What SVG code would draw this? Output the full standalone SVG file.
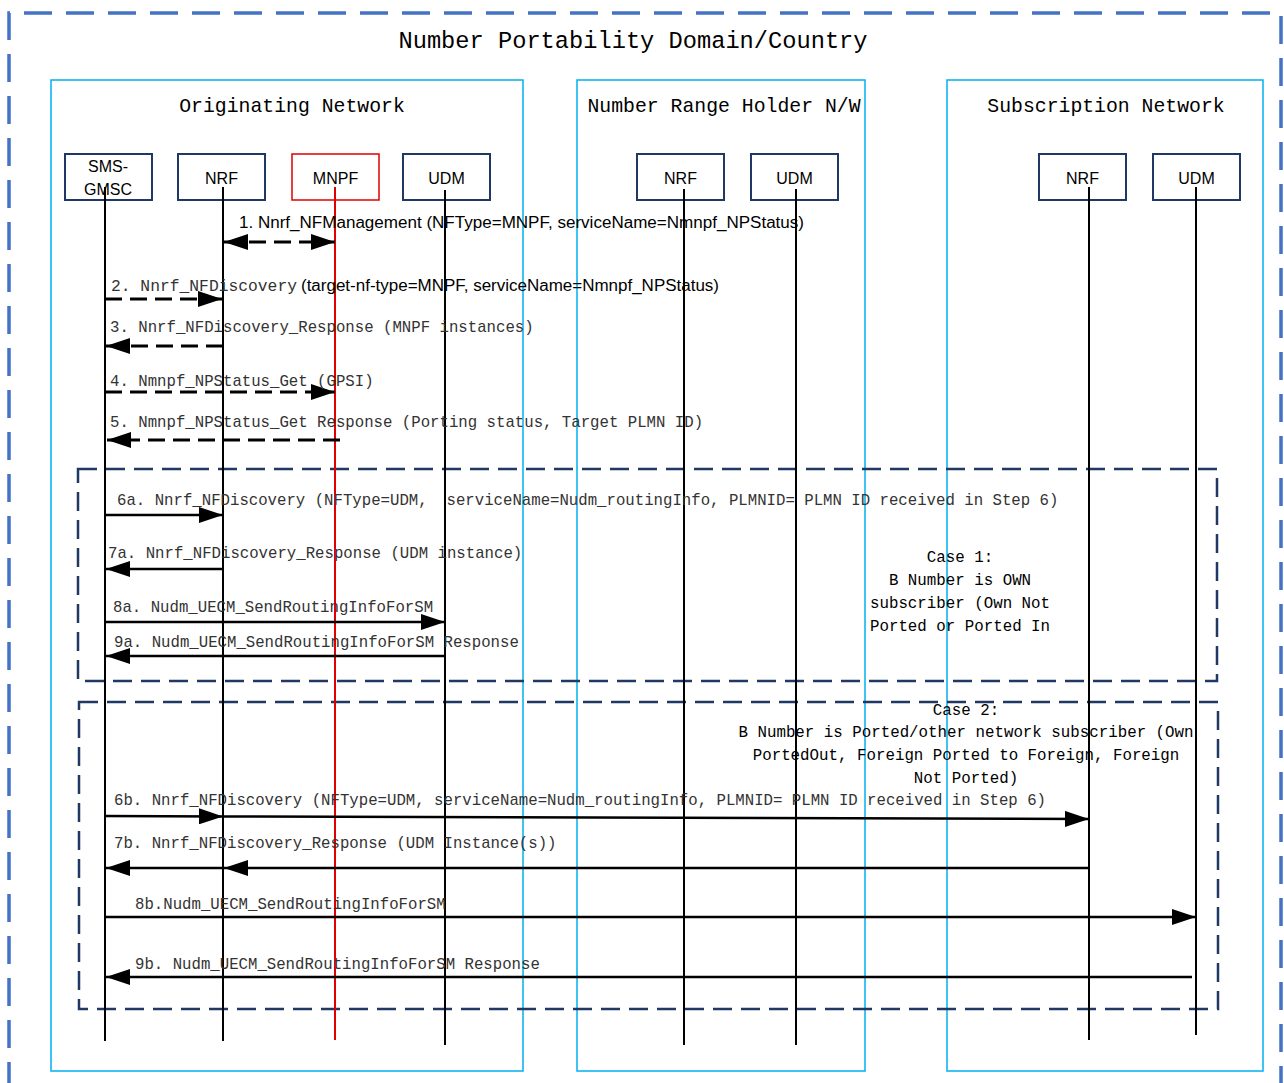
<svg xmlns="http://www.w3.org/2000/svg" width="1284" height="1083" viewBox="0 0 1284 1083">
<style>
.border{fill:none;stroke:#4472C4;stroke-width:3.5;stroke-dasharray:28 14}
.net{fill:none;stroke:#00B0F0;stroke-width:1.5}
.node{fill:#fff;stroke:#1F3864;stroke-width:2}
.nodeR{fill:#fff;stroke:#E00000;stroke-width:1.5}
.life{stroke:#000;stroke-width:2}
.lifeR{stroke:#E00000;stroke-width:2}
.msg{stroke:#000;stroke-width:2.5;fill:none;marker-end:url(#ah)}
.dash{stroke-width:3;stroke-dasharray:17 8}
.case{fill:none;stroke:#1F3864;stroke-width:2.5;stroke-dasharray:19 9}
.mono{font-family:"Liberation Mono","DejaVu Sans Mono",monospace}
.t{font-size:15.7px;fill:#333}
.ct{font-size:15.8px;fill:#000;text-anchor:middle}
.title{font-size:23.7px;fill:#000;text-anchor:middle}
.ntitle{font-size:19.8px;fill:#000;text-anchor:middle}
.lbl{font-family:"Liberation Sans",Arial,sans-serif;font-size:16px;fill:#000;text-anchor:middle}
.sans{font-family:"Liberation Sans",Arial,sans-serif;font-size:16px;fill:#000}
</style>
<defs>
<marker id="ah" markerUnits="userSpaceOnUse" markerWidth="24" markerHeight="16" viewBox="0 0 24 16" refX="24" refY="8" orient="auto-start-reverse">
<path d="M0,0 L24,8 L0,16 Z" fill="#000"/>
</marker>
</defs>
<rect width="1284" height="1083" fill="#fff"/>
<path class="border" d="M9,1090 V13 H1281 V1090"/>
<text class="mono title" x="633" y="48">Number Portability Domain/Country</text>

<g id="net-originating">
<rect class="net" x="51" y="80" width="472" height="991"/>
<text class="mono ntitle" x="292" y="112">Originating Network</text>
</g>
<g id="net-nrh">
<rect class="net" x="577" y="80" width="288" height="991"/>
<text class="mono ntitle" x="724" y="112">Number Range Holder N/W</text>
</g>
<g id="net-subscription">
<rect class="net" x="947" y="80" width="316" height="991"/>
<text class="mono ntitle" x="1106" y="112">Subscription Network</text>
</g>

<g id="case1">
<rect class="case" x="78" y="469" width="1139" height="212"/>
<text class="mono ct" x="960" y="562">Case 1:</text>
<text class="mono ct" x="960" y="585">B Number is OWN</text>
<text class="mono ct" x="960" y="608">subscriber (Own Not</text>
<text class="mono ct" x="960" y="631">Ported or Ported In</text>
</g>
<g id="case2">
<rect class="case" x="79" y="702" width="1139" height="307"/>
<text class="mono ct" x="966" y="715">Case 2:</text>
<text class="mono ct" x="966" y="737">B Number is Ported/other network subscriber (Own</text>
<text class="mono ct" x="966" y="760">PortedOut, Foreign Ported to Foreign, Foreign</text>
<text class="mono ct" x="966" y="783">Not Ported)</text>
</g>

<g id="node-smsgmsc">
<rect class="node" x="65" y="154" width="87" height="46"/>
<text class="lbl" x="108" y="172">SMS-</text>
<text class="lbl" x="108" y="195">GMSC</text>
<line class="life" x1="105" y1="187" x2="105" y2="1041"/>
</g>
<g id="node-nrf-orig">
<rect class="node" x="178" y="154" width="87" height="46"/>
<text class="lbl" x="221.5" y="184">NRF</text>
<line class="life" x1="223" y1="187" x2="223" y2="1041"/>
</g>
<g id="node-mnpf">
<rect class="nodeR" x="292" y="154" width="87" height="46"/>
<text class="lbl" x="335.5" y="184">MNPF</text>
<line class="lifeR" x1="335" y1="187" x2="335" y2="1040"/>
</g>
<g id="node-udm-orig">
<rect class="node" x="403" y="154" width="87" height="46"/>
<text class="lbl" x="446.5" y="184">UDM</text>
<line class="life" x1="445" y1="190" x2="445" y2="1045"/>
</g>
<g id="node-nrf-nrh">
<rect class="node" x="637" y="154" width="87" height="46"/>
<text class="lbl" x="680.5" y="184">NRF</text>
<line class="life" x1="684" y1="189" x2="684" y2="1045"/>
</g>
<g id="node-udm-nrh">
<rect class="node" x="751" y="154" width="87" height="46"/>
<text class="lbl" x="794.5" y="184">UDM</text>
<line class="life" x1="796" y1="189" x2="796" y2="1045"/>
</g>
<g id="node-nrf-sub">
<rect class="node" x="1039" y="154" width="87" height="46"/>
<text class="lbl" x="1082.5" y="184">NRF</text>
<line class="life" x1="1089" y1="187" x2="1089" y2="1040"/>
</g>
<g id="node-udm-sub">
<rect class="node" x="1153" y="154" width="87" height="46"/>
<text class="lbl" x="1196.5" y="184">UDM</text>
<line class="life" x1="1196" y1="187" x2="1196" y2="1035"/>
</g>

<g id="connectors">
<line class="msg dash" x1="224" y1="242" x2="335" y2="242" marker-start="url(#ah)"/>
<line class="msg dash" x1="105" y1="299" x2="222" y2="299"/>
<line class="msg dash" x1="223" y1="346" x2="106" y2="346"/>
<line class="msg dash" x1="105" y1="392" x2="335" y2="392"/>
<line class="msg dash" x1="340" y1="440" x2="107" y2="440"/>
<line class="msg" x1="105" y1="515" x2="223" y2="515"/>
<line class="msg" x1="223" y1="569" x2="106" y2="569"/>
<line class="msg" x1="105" y1="622" x2="445" y2="622"/>
<line class="msg" x1="445" y1="656" x2="106" y2="656"/>
<line class="msg" x1="105" y1="816" x2="223" y2="816.4"/>
<line class="msg" x1="223" y1="816.4" x2="1089" y2="819"/>
<line class="msg" x1="1089" y1="868" x2="224" y2="868"/>
<line class="msg" x1="223" y1="868" x2="106" y2="868"/>
<line class="msg" x1="105" y1="917" x2="1196" y2="917"/>
<line class="msg" x1="1192" y1="977" x2="106" y2="977"/>
</g>

<g id="labels">
<text class="sans" x="239" y="228" textLength="565" lengthAdjust="spacingAndGlyphs">1. Nnrf_NFManagement (NFType=MNPF, serviceName=Nmnpf_NPStatus)</text>
<text class="mono t" x="111" y="291"><tspan textLength="186" lengthAdjust="spacingAndGlyphs">2. Nnrf_NFDiscovery</tspan><tspan class="sans" x="301" textLength="418" lengthAdjust="spacingAndGlyphs">(target-nf-type=MNPF, serviceName=Nmnpf_NPStatus)</tspan></text>
<text class="mono t" x="110" y="332">3. Nnrf_NFDiscovery_Response (MNPF instances)</text>
<text class="mono t" x="110" y="386">4. Nmnpf_NPStatus_Get (GPSI)</text>
<text class="mono t" x="110" y="427">5. Nmnpf_NPStatus_Get Response (Porting status, Target PLMN ID)</text>
<text class="mono t" x="117" y="505" xml:space="preserve">6a. Nnrf_NFDiscovery (NFType=UDM,  serviceName=Nudm_routingInfo, PLMNID= PLMN ID received in Step 6)</text>
<text class="mono t" x="108" y="558">7a. Nnrf_NFDiscovery_Response (UDM instance)</text>
<text class="mono t" x="113" y="612">8a. Nudm_UECM_SendRoutingInfoForSM</text>
<text class="mono t" x="114" y="647">9a. Nudm_UECM_SendRoutingInfoForSM Response</text>
<text class="mono t" x="114" y="805">6b. Nnrf_NFDiscovery (NFType=UDM, serviceName=Nudm_routingInfo, PLMNID= PLMN ID received in Step 6)</text>
<text class="mono t" x="114" y="848">7b. Nnrf_NFDiscovery_Response (UDM Instance(s))</text>
<text class="mono t" x="135" y="909">8b.Nudm_UECM_SendRoutingInfoForSM</text>
<text class="mono t" x="135" y="969">9b. Nudm_UECM_SendRoutingInfoForSM Response</text>
</g>
</svg>
